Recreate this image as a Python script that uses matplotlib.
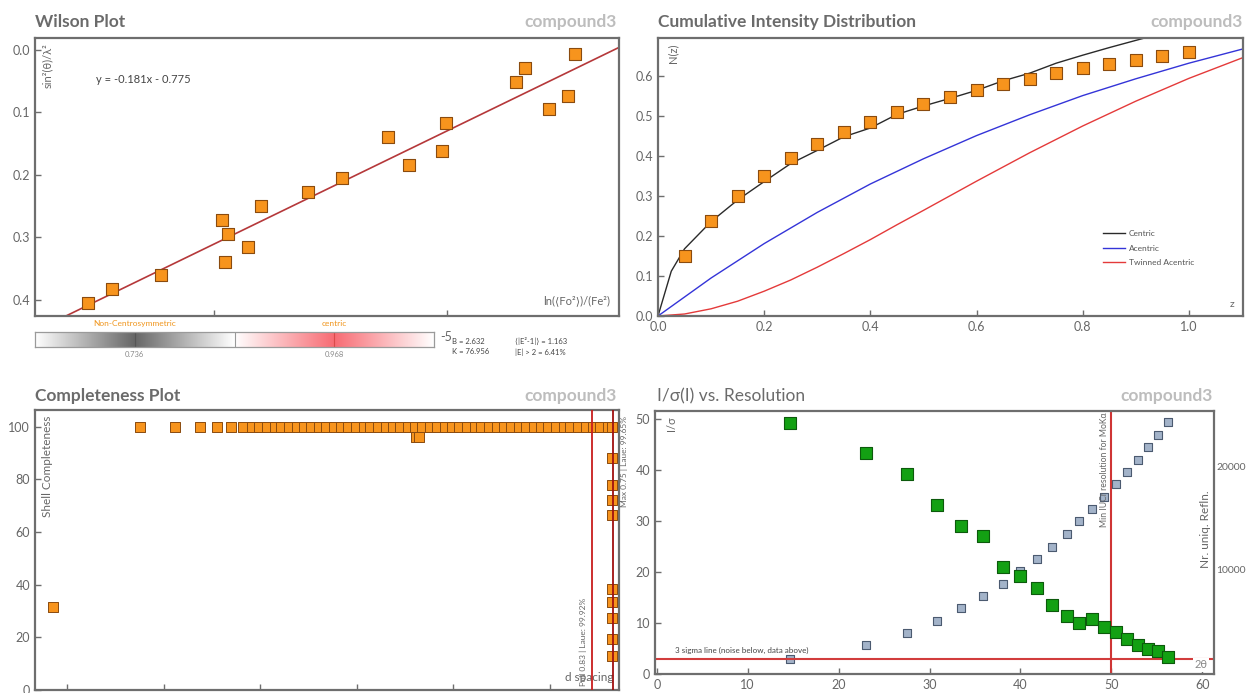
import numpy as np
import matplotlib
matplotlib.use('Agg')
import matplotlib.pyplot as plt
from matplotlib.lines import Line2D

plt.rcParams['font.family'] = ['Lato', 'DejaVu Sans']

# ---------------- data ----------------
# Wilson plot
wilson_x = [-6.540, -6.436, -6.229, -5.966, -5.954, -5.941, -5.854, -5.798, -5.596,
            -5.449, -5.251, -5.160, -5.022, -5.005, -4.704, -4.665, -4.561, -4.479, -4.449]
wilson_y = [0.405, 0.382, 0.360, 0.272, 0.339, 0.294, 0.315, 0.250, 0.227,
            0.205, 0.139, 0.184, 0.162, 0.117, 0.051, 0.029, 0.094, 0.074, 0.006]
fit_slope = -0.181
fit_intercept = -0.775
wilson_ticks = [-6, -5]
wilson_ticklabels = ['', '-5']
bar_labels = ['Non-Centrosymmetric', 'centric']
bar_values = ['0.736', '0.968']
wilson_stats_left = ['B = 2.632', 'K = 76.956']
wilson_stats_right = ['⟨|E²-1|⟩ = 1.163', '|E| > 2 = 6.41%']

# Cumulative intensity distribution
cid_z = [0.05, 0.10, 0.15, 0.20, 0.25, 0.30, 0.35, 0.40, 0.45, 0.50,
         0.55, 0.60, 0.65, 0.70, 0.75, 0.80, 0.85, 0.90, 0.95, 1.00]
cid_obs = [0.149, 0.237, 0.301, 0.351, 0.394, 0.429, 0.460, 0.486, 0.510, 0.531,
           0.548, 0.565, 0.579, 0.593, 0.607, 0.619, 0.630, 0.641, 0.651, 0.659]
centric_z = [0.0, 0.025, 0.05, 0.10, 0.15, 0.20, 0.25, 0.30, 0.35, 0.40, 0.45, 0.50,
             0.55, 0.60, 0.65, 0.70, 0.75, 0.80, 0.85, 0.90, 0.95]
centric_n = [0.0, 0.112, 0.168, 0.236, 0.290, 0.336, 0.381, 0.414, 0.448, 0.470, 0.504, 0.525,
             0.544, 0.564, 0.588, 0.607, 0.632, 0.652, 0.671, 0.689, 0.707]
acentric_z = [0.0, 0.1, 0.2, 0.3, 0.4, 0.5, 0.6, 0.7, 0.8, 0.9, 1.0, 1.1]
acentric_n = [0.0, 0.095, 0.181, 0.259, 0.330, 0.393, 0.451, 0.503, 0.551, 0.593, 0.632, 0.667]
twin_z = [0.0, 0.05, 0.10, 0.15, 0.20, 0.25, 0.30, 0.35, 0.40, 0.45, 0.50,
          0.60, 0.70, 0.80, 0.90, 1.00, 1.10]
twin_n = [0.0, 0.005, 0.018, 0.037, 0.062, 0.090, 0.122, 0.156, 0.191, 0.228, 0.264,
          0.337, 0.408, 0.475, 0.537, 0.594, 0.645]

# Completeness plot
comp_x = [0.0855, 0.1756, 0.2123, 0.2377, 0.2553, 0.2693, 0.2817,
          0.292, 0.299, 0.307, 0.315, 0.322, 0.330, 0.338, 0.345, 0.353, 0.361,
          0.368, 0.376, 0.384, 0.391, 0.399, 0.407, 0.414, 0.422, 0.430, 0.437,
          0.445, 0.453, 0.460, 0.468, 0.476, 0.483, 0.491, 0.499, 0.506, 0.514,
          0.522, 0.529, 0.537, 0.545, 0.552, 0.560, 0.568, 0.575, 0.583, 0.591,
          0.598, 0.606, 0.614, 0.621, 0.629, 0.637, 0.644, 0.652, 0.660, 0.664,
          0.4613, 0.4644,
          0.664, 0.664, 0.664, 0.664, 0.664, 0.664, 0.664, 0.664, 0.664]
comp_y = [31.6, 100, 100, 100, 100, 100, 100,
          100, 100, 100, 100, 100, 100, 100, 100, 100, 100,
          100, 100, 100, 100, 100, 100, 100, 100, 100, 100,
          100, 100, 100, 100, 100, 100, 100, 100, 100, 100,
          100, 100, 100, 100, 100, 100, 100, 100, 100, 100,
          100, 100, 100, 100, 100, 100, 100, 100, 100, 100,
          96.2, 96.2,
          88.0, 77.7, 72.2, 66.6, 38.5, 33.3, 27.3, 19.3, 12.9]
comp_full_x = 0.6431
comp_max_x = 0.6652
comp_full_label = 'Full 0.83 | Laue: 99.92%'
comp_max_label = 'Max 0.75 | Laue: 99.65%'

# I/sigma vs resolution
two_theta = [14.6, 23.0, 27.5, 30.8, 33.5, 35.9, 38.1, 40.0, 41.8, 43.5,
             45.1, 46.5, 47.9, 49.2, 50.5, 51.7, 52.9, 54.0, 55.1, 56.2]
i_sigma = [49.3, 43.3, 39.2, 33.2, 29.1, 27.0, 21.0, 19.3, 16.8, 13.6,
           11.4, 10.1, 10.8, 9.3, 8.3, 6.9, 5.75, 5.0, 4.5, 3.4]
n_refl = [1300, 2600, 3750, 5000, 6190, 7370, 8590, 9780, 11000, 12210,
          13430, 14650, 15830, 17050, 18270, 19490, 20670, 21890, 23110, 24330]
sigma_level = 3
iucr_two_theta = 50.0

# ---------------- style ----------------
ORANGE = '#f7941d'
ORANGE_EDGE = '#8a4b0f'
SPINE = '#6e6e6e'
TXT = '#666666'
TITLE = '#6b6b6b'
CMP = '#bdbdbd'

W, H = 1250, 693
fig = plt.figure(figsize=(W / 100, H / 100), dpi=100)


def ax_at(l, t, r, b):
    return fig.add_axes([l / W, 1 - b / H, (r - l) / W, (b - t) / H])


def style(ax):
    for s in ax.spines.values():
        s.set_color(SPINE)
        s.set_linewidth(1.6)
    ax.tick_params(direction='in', length=4, color=SPINE, labelcolor=TXT,
                   labelsize=9, width=1)


def titles(title, l, r, y, weight='bold'):
    fig.text(l / W, 1 - y / H, title, ha='left', va='center', fontsize=12.5,
             fontweight=weight, color=TITLE)
    fig.text(r / W, 1 - y / H, 'compound3', ha='right', va='center', fontsize=12.5,
             fontweight='bold', color=CMP)


# ---------------- Wilson plot ----------------
ax1 = ax_at(35, 38, 619, 316)
style(ax1)
ax1.set_xlim(-6.768, -4.26)
ax1.set_ylim(0.426, -0.019)
xx = np.array(ax1.get_xlim())
ax1.plot(xx, fit_slope * xx + fit_intercept, color='#b5383a', lw=1.2, zorder=2)
ax1.scatter(wilson_x, wilson_y, marker='s', s=70, facecolor=ORANGE,
            edgecolor=ORANGE_EDGE, linewidth=0.8, zorder=3)
ax1.set_yticks([0.0, 0.1, 0.2, 0.3, 0.4])
ax1.set_yticklabels(['0.0', '0.1', '0.2', '0.3', '0.4'])
ax1.set_xticks(wilson_ticks)
ax1.set_xticklabels(wilson_ticklabels)
ax1.tick_params(axis='x', pad=11)
ax1.text(0.022, 0.98, 'sin²(θ)/λ²', transform=ax1.transAxes, rotation=90,
         ha='center', va='top', fontsize=8, color=TXT)
ax1.text(0.105, 0.85, f'y = {fit_slope}x - {abs(fit_intercept)}', transform=ax1.transAxes,
         ha='left', va='center', fontsize=8, color='#444444')
ax1.text(0.985, 0.055, 'ln(⟨Fo²⟩)/(Fe²)', transform=ax1.transAxes,
         ha='right', va='center', fontsize=8, color=TXT)
titles('Wilson Plot', 35, 617, 22)

# gradient bar
axb = ax_at(35, 332, 434, 347)
n = 400
t = np.linspace(0, 1, n)
half = np.where(t < 0.5, t / 0.5, (1 - t) / 0.5)
img = np.ones((2, 2 * n, 3))
grey = 1 - 0.6 * half
img[:, :n, 0] = grey
img[:, :n, 1] = grey
img[:, :n, 2] = grey
img[:, n:, 0] = 1 - 0.03 * half
img[:, n:, 1] = 1 - 0.58 * half
img[:, n:, 2] = 1 - 0.55 * half
axb.imshow(img, aspect='auto', extent=(0, 2, 0, 1), interpolation='bilinear')
axb.axvline(0.5, color='#555555', lw=0.8)
axb.axvline(1.5, color='#d94a4a', lw=0.8)
axb.axvline(1.0, color='#999999', lw=0.8)
axb.set_xlim(0, 2)
axb.set_ylim(0, 1)
axb.set_xticks([])
axb.set_yticks([])
for s in axb.spines.values():
    s.set_color('#9a9a9a')
    s.set_linewidth(0.9)
for xi, lab, val in zip([0.5, 1.5], bar_labels, bar_values):
    axb.text(xi, 1.35, lab, ha='center', va='bottom', fontsize=6, color='#f0961e',
             transform=axb.transData)
    axb.text(xi, -0.25, val, ha='center', va='top', fontsize=5.5, color='#8a8a8a',
             transform=axb.transData)
fig.text(452 / W, 1 - 341 / H, wilson_stats_left[0], fontsize=5.5, color='#444444', va='center')
fig.text(452 / W, 1 - 352 / H, wilson_stats_left[1], fontsize=5.5, color='#444444', va='center')
fig.text(515 / W, 1 - 341 / H, wilson_stats_right[0], fontsize=5.5, color='#444444', va='center')
fig.text(515 / W, 1 - 352 / H, wilson_stats_right[1], fontsize=5.5, color='#444444', va='center')

# ---------------- Cumulative intensity distribution ----------------
ax2 = ax_at(658, 38, 1243, 316)
style(ax2)
ax2.set_xlim(0, 1.102)
ax2.set_ylim(0, 0.695)
l1, = ax2.plot(centric_z, centric_n, color='#2a2a2a', lw=1.0, label='Centric')
l2, = ax2.plot(acentric_z, acentric_n, color='#3434d8', lw=1.0, label='Acentric')
l3, = ax2.plot(twin_z, twin_n, color='#e43a3a', lw=1.0, label='Twinned Acentric')
ax2.scatter(cid_z, cid_obs, marker='s', s=75, facecolor=ORANGE,
            edgecolor=ORANGE_EDGE, linewidth=0.8, zorder=3)
ax2.set_xticks([0.0, 0.2, 0.4, 0.6, 0.8, 1.0])
ax2.set_xticklabels(['0.0', '0.2', '0.4', '0.6', '0.8', '1.0'])
ax2.set_yticks([0.0, 0.1, 0.2, 0.3, 0.4, 0.5, 0.6])
ax2.set_yticklabels(['0.0', '0.1', '0.2', '0.3', '0.4', '0.5', '0.6'])
leg = ax2.legend(handles=[l1, l2, l3], loc='upper left', bbox_to_anchor=(0.755, 0.32),
                 frameon=False, fontsize=6, handlelength=2.6, labelspacing=0.9,
                 handletextpad=0.5, borderaxespad=0)
for tx in leg.get_texts():
    tx.set_color('#555555')
ax2.text(0.025, 0.98, 'N(z)', transform=ax2.transAxes, rotation=90,
         ha='center', va='top', fontsize=8, color=TXT)
ax2.text(0.985, 0.04, 'z', transform=ax2.transAxes, ha='right', va='center',
         fontsize=7.5, color=TXT)
titles('Cumulative Intensity Distribution', 658, 1243, 22)

# ---------------- Completeness plot ----------------
ax3 = ax_at(35, 410, 619, 690)
style(ax3)
ax3.set_xlim(0.0669, 0.6714)
ax3.set_ylim(0, 106.3)
ax3.scatter(comp_x, comp_y, marker='s', s=55, facecolor=ORANGE,
            edgecolor=ORANGE_EDGE, linewidth=0.7, zorder=3)
ax3.axvline(comp_full_x, color='#c81e1e', lw=1.3, zorder=4)
ax3.axvline(comp_max_x, color='#a01010', lw=1.3, zorder=4)
ax3.set_yticks([0, 20, 40, 60, 80, 100])
ax3.set_yticklabels(['0', '20', '40', '60', '80', '100'])
ax3.set_xticks([0.1, 0.2, 0.3, 0.4, 0.5, 0.6])
ax3.set_xticklabels([])
ax3.text(0.022, 0.98, 'Shell Completeness', transform=ax3.transAxes, rotation=90,
         ha='center', va='top', fontsize=8.5, color=TXT)
ax3.text(0.99, 0.045, 'd spacing', transform=ax3.transAxes, ha='right', va='center',
         fontsize=8.5, color=TXT)
ax3.text(comp_full_x - 0.0085, 1.5, comp_full_label, rotation=90, ha='center', va='bottom',
         fontsize=6, color=TXT, zorder=5)
ax3.text(comp_max_x + 0.0115, 104.0, comp_max_label, rotation=90, ha='center', va='top',
         fontsize=6, color=TXT, zorder=5, clip_on=False)
titles('Completeness Plot', 35, 617, 396)

# ---------------- I/sigma vs resolution ----------------
ax4 = ax_at(655, 411, 1214, 674)
style(ax4)
ax4.set_xlim(-0.2, 61.3)
ax4.set_ylim(0, 51.6)
ax4r = ax4.twinx()
ax4r.set_ylim(-200, 25400)
for s in ax4r.spines.values():
    s.set_visible(False)
ax4r.tick_params(axis='y', length=0, labelcolor=TXT, labelsize=7.5, pad=1.5)
ax4r.set_yticks([10000, 20000])
ax4r.set_yticklabels(['10000', '20000'])
ax4r.scatter(two_theta, n_refl, marker='s', s=38, facecolor='#a3b3c9',
             edgecolor='#4b5a70', linewidth=0.8, zorder=3)
ax4.axhline(sigma_level, color='#d23c3c', lw=1.5, zorder=2)
ax4.axvline(iucr_two_theta, color='#cf3535', lw=1.5, zorder=2)
ax4.set_zorder(ax4r.get_zorder() + 1)
ax4.patch.set_visible(False)
ax4.scatter(two_theta, i_sigma, marker='s', s=80, facecolor='#13a013',
            edgecolor='#0c5a0c', linewidth=0.8, zorder=4)
ax4.set_xticks([0, 10, 20, 30, 40, 50, 60])
ax4.set_xticklabels(['0', '10', '20', '30', '40', '50', '60'])
ax4.set_yticks([0, 10, 20, 30, 40, 50])
ax4.set_yticklabels(['0', '10', '20', '30', '40', '50'])
ax4.text(0.03, 0.98, 'I/σ', transform=ax4.transAxes, rotation=90,
         ha='center', va='top', fontsize=8, color=TXT)
ax4.text(2.0, sigma_level + 0.9, '3 sigma line (noise below, data above)', ha='left',
         va='bottom', fontsize=5.8, color='#444444')
ax4.text(iucr_two_theta - 0.8, 51.3, 'Min IUCr resolution for MoKα', rotation=90,
         ha='center', va='top', fontsize=6.2, color=TXT)
ax4.text(59.9, 1.8, '2θ', ha='center', va='center', fontsize=8, color='#888888',
         bbox=dict(facecolor='white', edgecolor='none', pad=1.0), zorder=5)
ax4.text(0.985, 0.55, 'Nr. uniq. Refln.', transform=ax4.transAxes, rotation=90,
         ha='center', va='center', fontsize=8.5, color=TXT)
fig.text(657 / W, 1 - 396 / H, 'I/σ(I) vs. Resolution', ha='left', va='center',
         fontsize=12.5, color=TITLE)
fig.text(1213 / W, 1 - 396 / H, 'compound3', ha='right', va='center', fontsize=12.5,
         fontweight='bold', color=CMP)

fig.savefig('out.png', dpi=100)
